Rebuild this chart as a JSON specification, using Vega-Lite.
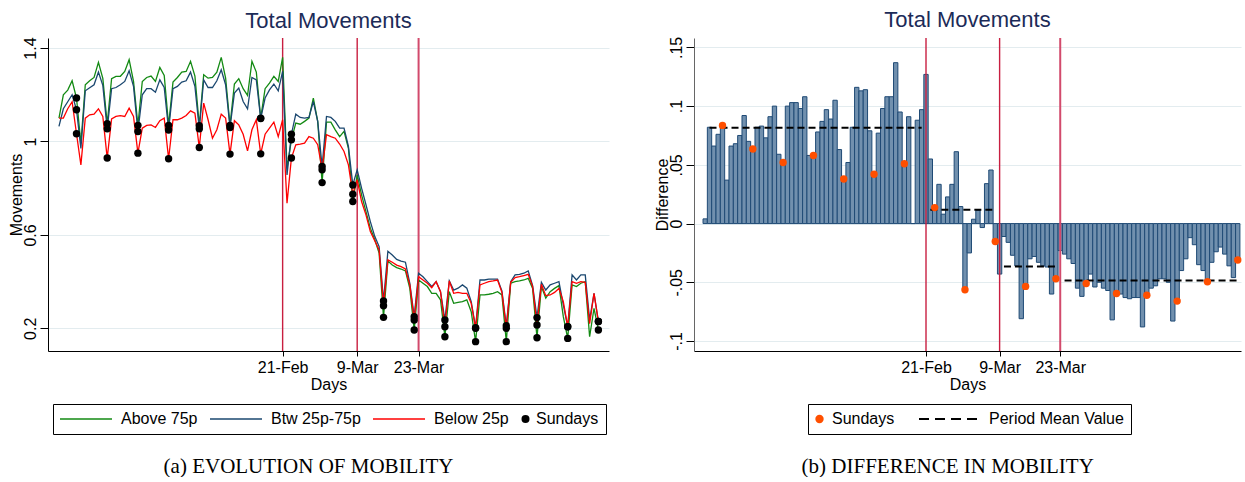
{
  "$schema": "https://vega.github.io/schema/vega-lite/v6.json",
  "padding": {"left": 8, "top": 9, "right": 0, "bottom": 0},
  "background": "white",
  "config": {
    "view": {"stroke": null},
    "font": "Liberation Sans",
    "axis": {"labelFont": "Liberation Sans", "titleFont": "Liberation Sans", "labelFontSize": 16, "titleFontSize": 16, "titleFontWeight": "normal", "labelColor": "black", "titleColor": "black", "tickColor": "black", "domainColor": "black", "gridColor": "#e3ecef", "gridWidth": 1.2},
    "title": {"font": "Liberation Sans", "fontSize": 22, "fontWeight": "normal", "color": "#1c2b58"}
  },
  "datasets": {
    "events": [{"date": "2020-02-21"}, {"date": "2020-03-09"}, {"date": "2020-03-23"}],
    "means": [
      {"start": "2020-01-02", "end": "2020-02-20", "mean": 0.0816},
      {"start": "2020-02-22", "end": "2020-03-08", "mean": 0.0117},
      {"start": "2020-03-10", "end": "2020-03-22", "mean": -0.0366},
      {"start": "2020-03-24", "end": "2020-05-03", "mean": -0.0485}
    ],
    "mob": [
      {"date": "2020-01-01", "Above 75p": 1.10, "Btw 25p-75p": 1.065, "Below 25p": 1.10, "diff": 0.004},
      {"date": "2020-01-02", "Above 75p": 1.20, "Btw 25p-75p": 1.14, "Below 25p": 1.10, "diff": 0.082},
      {"date": "2020-01-03", "Above 75p": 1.22, "Btw 25p-75p": 1.17, "Below 25p": 1.14, "diff": 0.066},
      {"date": "2020-01-04", "Above 75p": 1.26, "Btw 25p-75p": 1.20, "Below 25p": 1.17, "diff": 0.076},
      {"date": "2020-01-05", "Above 75p": 1.186, "Btw 25p-75p": 1.136, "Below 25p": 1.033, "diff": 0.0836},
      {"date": "2020-01-06", "Above 75p": 0.99, "Btw 25p-75p": 0.97, "Below 25p": 0.90, "diff": 0.037},
      {"date": "2020-01-07", "Above 75p": 1.243, "Btw 25p-75p": 1.217, "Below 25p": 1.10, "diff": 0.066},
      {"date": "2020-01-08", "Above 75p": 1.26, "Btw 25p-75p": 1.23, "Below 25p": 1.114, "diff": 0.068},
      {"date": "2020-01-09", "Above 75p": 1.274, "Btw 25p-75p": 1.243, "Below 25p": 1.117, "diff": 0.075},
      {"date": "2020-01-10", "Above 75p": 1.339, "Btw 25p-75p": 1.297, "Below 25p": 1.14, "diff": 0.092},
      {"date": "2020-01-11", "Above 75p": 1.27, "Btw 25p-75p": 1.24, "Below 25p": 1.107, "diff": 0.070},
      {"date": "2020-01-12", "Above 75p": 1.076, "Btw 25p-75p": 1.054, "Below 25p": 0.929, "diff": 0.0635},
      {"date": "2020-01-13", "Above 75p": 1.269, "Btw 25p-75p": 1.226, "Below 25p": 1.097, "diff": 0.082},
      {"date": "2020-01-14", "Above 75p": 1.279, "Btw 25p-75p": 1.231, "Below 25p": 1.107, "diff": 0.083},
      {"date": "2020-01-15", "Above 75p": 1.279, "Btw 25p-75p": 1.243, "Below 25p": 1.111, "diff": 0.073},
      {"date": "2020-01-16", "Above 75p": 1.30, "Btw 25p-75p": 1.257, "Below 25p": 1.107, "diff": 0.091},
      {"date": "2020-01-17", "Above 75p": 1.35, "Btw 25p-75p": 1.303, "Below 25p": 1.143, "diff": 0.100},
      {"date": "2020-01-18", "Above 75p": 1.257, "Btw 25p-75p": 1.236, "Below 25p": 1.107, "diff": 0.059},
      {"date": "2020-01-19", "Above 75p": 1.069, "Btw 25p-75p": 1.043, "Below 25p": 0.95, "diff": 0.052},
      {"date": "2020-01-20", "Above 75p": 1.257, "Btw 25p-75p": 1.20, "Below 25p": 1.057, "diff": 0.100},
      {"date": "2020-01-21", "Above 75p": 1.274, "Btw 25p-75p": 1.226, "Below 25p": 1.069, "diff": 0.103},
      {"date": "2020-01-22", "Above 75p": 1.28, "Btw 25p-75p": 1.226, "Below 25p": 1.071, "diff": 0.103},
      {"date": "2020-01-23", "Above 75p": 1.257, "Btw 25p-75p": 1.211, "Below 25p": 1.06, "diff": 0.098},
      {"date": "2020-01-24", "Above 75p": 1.317, "Btw 25p-75p": 1.264, "Below 25p": 1.089, "diff": 0.108},
      {"date": "2020-01-25", "Above 75p": 1.283, "Btw 25p-75p": 1.231, "Below 25p": 1.10, "diff": 0.058},
      {"date": "2020-01-26", "Above 75p": 1.069, "Btw 25p-75p": 1.049, "Below 25p": 0.926, "diff": 0.058},
      {"date": "2020-01-27", "Above 75p": 1.254, "Btw 25p-75p": 1.226, "Below 25p": 1.093, "diff": 0.078},
      {"date": "2020-01-28", "Above 75p": 1.274, "Btw 25p-75p": 1.236, "Below 25p": 1.093, "diff": 0.087},
      {"date": "2020-01-29", "Above 75p": 1.297, "Btw 25p-75p": 1.254, "Below 25p": 1.10, "diff": 0.097},
      {"date": "2020-01-30", "Above 75p": 1.30, "Btw 25p-75p": 1.26, "Below 25p": 1.111, "diff": 0.089},
      {"date": "2020-01-31", "Above 75p": 1.343, "Btw 25p-75p": 1.297, "Below 25p": 1.131, "diff": 0.105},
      {"date": "2020-02-01", "Above 75p": 1.28, "Btw 25p-75p": 1.236, "Below 25p": 1.121, "diff": 0.063},
      {"date": "2020-02-02", "Above 75p": 1.067, "Btw 25p-75p": 1.054, "Below 25p": 0.974, "diff": 0.038},
      {"date": "2020-02-03", "Above 75p": 1.286, "Btw 25p-75p": 1.264, "Below 25p": 1.164, "diff": 0.052},
      {"date": "2020-02-04", "Above 75p": 1.271, "Btw 25p-75p": 1.231, "Below 25p": 1.093, "diff": 0.082},
      {"date": "2020-02-05", "Above 75p": 1.274, "Btw 25p-75p": 1.231, "Below 25p": 1.014, "diff": 0.116},
      {"date": "2020-02-06", "Above 75p": 1.297, "Btw 25p-75p": 1.26, "Below 25p": 1.05, "diff": 0.113},
      {"date": "2020-02-07", "Above 75p": 1.36, "Btw 25p-75p": 1.307, "Below 25p": 1.117, "diff": 0.114},
      {"date": "2020-02-08", "Above 75p": 1.271, "Btw 25p-75p": 1.243, "Below 25p": 1.10, "diff": 0.079},
      {"date": "2020-02-09", "Above 75p": 1.069, "Btw 25p-75p": 1.06, "Below 25p": 0.946, "diff": 0.042},
      {"date": "2020-02-10", "Above 75p": 1.246, "Btw 25p-75p": 1.207, "Below 25p": 1.089, "diff": 0.077},
      {"date": "2020-02-11", "Above 75p": 1.269, "Btw 25p-75p": 1.229, "Below 25p": 1.071, "diff": 0.098},
      {"date": "2020-02-12", "Above 75p": 1.226, "Btw 25p-75p": 1.171, "Below 25p": 1.031, "diff": 0.108},
      {"date": "2020-02-13", "Above 75p": 1.197, "Btw 25p-75p": 1.14, "Below 25p": 0.96, "diff": 0.108},
      {"date": "2020-02-14", "Above 75p": 1.343, "Btw 25p-75p": 1.274, "Below 25p": 1.05, "diff": 0.137},
      {"date": "2020-02-15", "Above 75p": 1.297, "Btw 25p-75p": 1.264, "Below 25p": 1.093, "diff": 0.095},
      {"date": "2020-02-16", "Above 75p": 1.10, "Btw 25p-75p": 1.098, "Below 25p": 0.947, "diff": 0.051},
      {"date": "2020-02-17", "Above 75p": 1.226, "Btw 25p-75p": 1.186, "Below 25p": 1.031, "diff": 0.091},
      {"date": "2020-02-18", "Above 75p": 1.25, "Btw 25p-75p": 1.221, "Below 25p": 1.057, "diff": 0.0},
      {"date": "2020-02-19", "Above 75p": 1.279, "Btw 25p-75p": 1.246, "Below 25p": 1.083, "diff": 0.088},
      {"date": "2020-02-20", "Above 75p": 1.257, "Btw 25p-75p": 1.217, "Below 25p": 1.021, "diff": 0.097},
      {"date": "2020-02-21", "Above 75p": 1.36, "Btw 25p-75p": 1.30, "Below 25p": 1.093, "diff": 0.127},
      {"date": "2020-02-22", "Above 75p": 0.886, "Btw 25p-75p": 0.857, "Below 25p": 0.736, "diff": 0.055},
      {"date": "2020-02-23", "Above 75p": 1.007, "Btw 25p-75p": 1.031, "Below 25p": 0.929, "diff": 0.0136},
      {"date": "2020-02-24", "Above 75p": 1.079, "Btw 25p-75p": 1.117, "Below 25p": 0.986, "diff": 0.0334},
      {"date": "2020-02-25", "Above 75p": 1.074, "Btw 25p-75p": 1.103, "Below 25p": 0.989, "diff": 0.008},
      {"date": "2020-02-26", "Above 75p": 1.086, "Btw 25p-75p": 1.10, "Below 25p": 0.993, "diff": 0.0227},
      {"date": "2020-02-27", "Above 75p": 1.10, "Btw 25p-75p": 1.103, "Below 25p": 1.021, "diff": 0.0334},
      {"date": "2020-02-28", "Above 75p": 1.186, "Btw 25p-75p": 1.171, "Below 25p": 1.014, "diff": 0.0612},
      {"date": "2020-02-29", "Above 75p": 1.086, "Btw 25p-75p": 1.086, "Below 25p": 0.986, "diff": 0.0145},
      {"date": "2020-03-01", "Above 75p": 0.824, "Btw 25p-75p": 0.893, "Below 25p": 0.879, "diff": -0.0564},
      {"date": "2020-03-02", "Above 75p": 1.083, "Btw 25p-75p": 1.107, "Below 25p": 1.029, "diff": -0.025},
      {"date": "2020-03-03", "Above 75p": 1.083, "Btw 25p-75p": 1.103, "Below 25p": 1.021, "diff": 0.0037},
      {"date": "2020-03-04", "Above 75p": 1.05, "Btw 25p-75p": 1.086, "Below 25p": 1.014, "diff": 0.0113},
      {"date": "2020-03-05", "Above 75p": 1.021, "Btw 25p-75p": 1.057, "Below 25p": 0.989, "diff": -0.0034},
      {"date": "2020-03-06", "Above 75p": 1.043, "Btw 25p-75p": 1.057, "Below 25p": 0.957, "diff": 0.034},
      {"date": "2020-03-07", "Above 75p": 0.971, "Btw 25p-75p": 0.979, "Below 25p": 0.90, "diff": 0.0456},
      {"date": "2020-03-08", "Above 75p": 0.743, "Btw 25p-75p": 0.814, "Below 25p": 0.774, "diff": -0.0153},
      {"date": "2020-03-09", "Above 75p": 0.857, "Btw 25p-75p": 0.879, "Below 25p": 0.836, "diff": -0.043},
      {"date": "2020-03-10", "Above 75p": 0.771, "Btw 25p-75p": 0.80, "Below 25p": 0.743, "diff": -0.011},
      {"date": "2020-03-11", "Above 75p": 0.70, "Btw 25p-75p": 0.729, "Below 25p": 0.686, "diff": -0.016},
      {"date": "2020-03-12", "Above 75p": 0.629, "Btw 25p-75p": 0.657, "Below 25p": 0.614, "diff": -0.027},
      {"date": "2020-03-13", "Above 75p": 0.58, "Btw 25p-75p": 0.594, "Below 25p": 0.575, "diff": -0.036},
      {"date": "2020-03-14", "Above 75p": 0.522, "Btw 25p-75p": 0.55, "Below 25p": 0.536, "diff": -0.081},
      {"date": "2020-03-15", "Above 75p": 0.247, "Btw 25p-75p": 0.317, "Below 25p": 0.297, "diff": -0.0535},
      {"date": "2020-03-16", "Above 75p": 0.488, "Btw 25p-75p": 0.53, "Below 25p": 0.493, "diff": -0.030},
      {"date": "2020-03-17", "Above 75p": 0.471, "Btw 25p-75p": 0.514, "Below 25p": 0.483, "diff": -0.028},
      {"date": "2020-03-18", "Above 75p": 0.46, "Btw 25p-75p": 0.495, "Below 25p": 0.471, "diff": -0.033},
      {"date": "2020-03-19", "Above 75p": 0.454, "Btw 25p-75p": 0.488, "Below 25p": 0.464, "diff": -0.036},
      {"date": "2020-03-20", "Above 75p": 0.446, "Btw 25p-75p": 0.483, "Below 25p": 0.454, "diff": -0.037},
      {"date": "2020-03-21", "Above 75p": 0.371, "Btw 25p-75p": 0.393, "Below 25p": 0.386, "diff": -0.060},
      {"date": "2020-03-22", "Above 75p": 0.193, "Btw 25p-75p": 0.25, "Below 25p": 0.236, "diff": -0.047},
      {"date": "2020-03-23", "Above 75p": 0.407, "Btw 25p-75p": 0.436, "Below 25p": 0.421, "diff": -0.023},
      {"date": "2020-03-24", "Above 75p": 0.393, "Btw 25p-75p": 0.421, "Below 25p": 0.407, "diff": -0.026},
      {"date": "2020-03-25", "Above 75p": 0.379, "Btw 25p-75p": 0.40, "Below 25p": 0.393, "diff": -0.030},
      {"date": "2020-03-26", "Above 75p": 0.35, "Btw 25p-75p": 0.379, "Below 25p": 0.374, "diff": -0.034},
      {"date": "2020-03-27", "Above 75p": 0.35, "Btw 25p-75p": 0.40, "Below 25p": 0.40, "diff": -0.055},
      {"date": "2020-03-28", "Above 75p": 0.322, "Btw 25p-75p": 0.357, "Below 25p": 0.357, "diff": -0.062},
      {"date": "2020-03-29", "Above 75p": 0.164, "Btw 25p-75p": 0.236, "Below 25p": 0.207, "diff": -0.051},
      {"date": "2020-03-30", "Above 75p": 0.357, "Btw 25p-75p": 0.403, "Below 25p": 0.403, "diff": -0.043},
      {"date": "2020-03-31", "Above 75p": 0.307, "Btw 25p-75p": 0.364, "Below 25p": 0.35, "diff": -0.054},
      {"date": "2020-04-01", "Above 75p": 0.311, "Btw 25p-75p": 0.372, "Below 25p": 0.354, "diff": -0.050},
      {"date": "2020-04-02", "Above 75p": 0.314, "Btw 25p-75p": 0.386, "Below 25p": 0.35, "diff": -0.055},
      {"date": "2020-04-03", "Above 75p": 0.322, "Btw 25p-75p": 0.372, "Below 25p": 0.35, "diff": -0.057},
      {"date": "2020-04-04", "Above 75p": 0.271, "Btw 25p-75p": 0.314, "Below 25p": 0.307, "diff": -0.082},
      {"date": "2020-04-05", "Above 75p": 0.143, "Btw 25p-75p": 0.203, "Below 25p": 0.20, "diff": -0.0595},
      {"date": "2020-04-06", "Above 75p": 0.343, "Btw 25p-75p": 0.407, "Below 25p": 0.386, "diff": -0.060},
      {"date": "2020-04-07", "Above 75p": 0.343, "Btw 25p-75p": 0.407, "Below 25p": 0.393, "diff": -0.063},
      {"date": "2020-04-08", "Above 75p": 0.346, "Btw 25p-75p": 0.411, "Below 25p": 0.40, "diff": -0.064},
      {"date": "2020-04-09", "Above 75p": 0.35, "Btw 25p-75p": 0.411, "Below 25p": 0.403, "diff": -0.063},
      {"date": "2020-04-10", "Above 75p": 0.357, "Btw 25p-75p": 0.411, "Below 25p": 0.407, "diff": -0.063},
      {"date": "2020-04-11", "Above 75p": 0.343, "Btw 25p-75p": 0.36, "Below 25p": 0.354, "diff": -0.088},
      {"date": "2020-04-12", "Above 75p": 0.143, "Btw 25p-75p": 0.211, "Below 25p": 0.20, "diff": -0.061},
      {"date": "2020-04-13", "Above 75p": 0.393, "Btw 25p-75p": 0.40, "Below 25p": 0.397, "diff": -0.055},
      {"date": "2020-04-14", "Above 75p": 0.40, "Btw 25p-75p": 0.429, "Below 25p": 0.417, "diff": -0.053},
      {"date": "2020-04-15", "Above 75p": 0.403, "Btw 25p-75p": 0.431, "Below 25p": 0.421, "diff": -0.047},
      {"date": "2020-04-16", "Above 75p": 0.407, "Btw 25p-75p": 0.436, "Below 25p": 0.426, "diff": -0.047},
      {"date": "2020-04-17", "Above 75p": 0.414, "Btw 25p-75p": 0.446, "Below 25p": 0.431, "diff": -0.050},
      {"date": "2020-04-18", "Above 75p": 0.371, "Btw 25p-75p": 0.383, "Below 25p": 0.379, "diff": -0.083},
      {"date": "2020-04-19", "Above 75p": 0.16, "Btw 25p-75p": 0.246, "Below 25p": 0.214, "diff": -0.066},
      {"date": "2020-04-20", "Above 75p": 0.379, "Btw 25p-75p": 0.397, "Below 25p": 0.389, "diff": -0.040},
      {"date": "2020-04-21", "Above 75p": 0.329, "Btw 25p-75p": 0.364, "Below 25p": 0.34, "diff": -0.030},
      {"date": "2020-04-22", "Above 75p": 0.357, "Btw 25p-75p": 0.386, "Below 25p": 0.343, "diff": -0.012},
      {"date": "2020-04-23", "Above 75p": 0.371, "Btw 25p-75p": 0.393, "Below 25p": 0.354, "diff": -0.018},
      {"date": "2020-04-24", "Above 75p": 0.383, "Btw 25p-75p": 0.40, "Below 25p": 0.371, "diff": -0.035},
      {"date": "2020-04-25", "Above 75p": 0.25, "Btw 25p-75p": 0.30, "Below 25p": 0.314, "diff": -0.040},
      {"date": "2020-04-26", "Above 75p": 0.157, "Btw 25p-75p": 0.207, "Below 25p": 0.207, "diff": -0.0496},
      {"date": "2020-04-27", "Above 75p": 0.386, "Btw 25p-75p": 0.429, "Below 25p": 0.40, "diff": -0.033},
      {"date": "2020-04-28", "Above 75p": 0.379, "Btw 25p-75p": 0.407, "Below 25p": 0.393, "diff": -0.024},
      {"date": "2020-04-29", "Above 75p": 0.393, "Btw 25p-75p": 0.429, "Below 25p": 0.40, "diff": -0.020},
      {"date": "2020-04-30", "Above 75p": 0.40, "Btw 25p-75p": 0.429, "Below 25p": 0.397, "diff": -0.026},
      {"date": "2020-05-01", "Above 75p": 0.164, "Btw 25p-75p": 0.236, "Below 25p": 0.22, "diff": -0.036},
      {"date": "2020-05-02", "Above 75p": 0.286, "Btw 25p-75p": 0.35, "Below 25p": 0.35, "diff": -0.046},
      {"date": "2020-05-03", "Above 75p": 0.193, "Btw 25p-75p": 0.229, "Below 25p": 0.229, "diff": -0.031}
    ]
  },
  "spacing": 44,
  "resolve": {"scale": {"color": "independent"}, "legend": {"color": "independent"}},
  "hconcat": [
    {
      "title": {"text": "(a)  EVOLUTION OF MOBILITY", "orient": "bottom", "anchor": "middle", "font": "Liberation Serif", "fontSize": 21, "color": "black", "offset": 21},
      "vconcat": [
        {
          "title": {"text": "Total Movements", "offset": 4},
          "width": 561,
          "height": 313,
          "layer": [
            {
              "data": {"name": "events"},
              "mark": {"type": "rule"},
              "encoding": {
                "x": {"field": "date", "type": "temporal", "title": "Days",
                      "scale": {"type": "utc", "domain": [{"year": 2019, "month": 12, "date": 29, "hours": 12, "utc": true}, {"year": 2020, "month": 5, "date": 5, "hours": 10, "utc": true}]},
                      "axis": {"values": [{"year": 2020, "month": 2, "date": 21, "utc": true}, {"year": 2020, "month": 3, "date": 9, "utc": true}, {"year": 2020, "month": 3, "date": 23, "utc": true}], "format": "%-d-%b", "grid": false, "tickSize": 5, "labelPadding": 3, "titlePadding": 1}},
                "color": {"condition": {"test": "utcmonth(toDate(datum.date)) === 2 && utcdate(toDate(datum.date)) === 23", "value": "#d24a6c"}, "value": "#c81e40"},
                "strokeWidth": {"condition": {"test": "utcmonth(toDate(datum.date)) === 2 && utcdate(toDate(datum.date)) === 23", "value": 2}, "value": 1.4}
              }
            },
            {
              "data": {"name": "mob"},
              "transform": [{"fold": ["Above 75p", "Btw 25p-75p", "Below 25p"], "as": ["group", "value"]}],
              "mark": {"type": "line", "strokeWidth": 1.3},
              "encoding": {
                "x": {"field": "date", "type": "temporal", "title": "Days",
                      "scale": {"type": "utc", "domain": [{"year": 2019, "month": 12, "date": 29, "hours": 12, "utc": true}, {"year": 2020, "month": 5, "date": 5, "hours": 10, "utc": true}]}},
                "y": {"field": "value", "type": "quantitative", "title": "Movements",
                      "scale": {"domain": [0.103, 1.443], "nice": false, "zero": false},
                      "axis": {"values": [0.2, 0.6, 1, 1.4], "format": "~g", "grid": true, "labelAngle": -90, "labelAlign": "center", "labelBaseline": "alphabetic", "tickSize": 8, "labelPadding": 5, "titlePadding": -2}},
                "color": {"field": "group", "type": "nominal",
                          "scale": {"domain": ["Above 75p", "Btw 25p-75p", "Below 25p", "Sundays"], "range": ["#138a13", "#1a476f", "#ff0000", "#000000"]},
                          "legend": {
                            "orient": "none", "legendX": 5, "legendY": 366, "direction": "horizontal", "title": null,
                            "strokeColor": "black", "fillColor": "white", "padding": 7,
                            "labelFontSize": 16, "labelFont": "Liberation Sans", "labelColor": "black", "labelLimit": 300,
                            "columnPadding": 12, "clipHeight": 16, "symbolType": "stroke",
                            "encode": {
                              "symbols": {"update": {
                                "x": {"signal": "datum.value === 'Sundays' ? 4.5 : 26"},
                                "shape": {"signal": "datum.value === 'Sundays' ? 'circle' : 'stroke'"},
                                "size": {"signal": "datum.value === 'Sundays' ? 64 : 2704"},
                                "strokeWidth": {"signal": "datum.value === 'Sundays' ? 0 : 1.5"},
                                "fill": {"signal": "datum.value === 'Sundays' ? 'black' : 'transparent'"},
                                "stroke": {"signal": "datum.value === 'Above 75p' ? '#138a13' : datum.value === 'Btw 25p-75p' ? '#1a476f' : datum.value === 'Below 25p' ? '#ff0000' : 'black'"},
                                "opacity": {"value": 1}
                              }},
                              "labels": {"update": {
                                "x": {"signal": "datum.value === 'Sundays' ? 15 : 61"}
                              }}
                            }
                          }}
              }
            },
            {
              "data": {"name": "mob"},
              "transform": [
                {"fold": ["Above 75p", "Btw 25p-75p", "Below 25p"], "as": ["group", "value"]},
                {"filter": "utcday(toDate(datum.date)) === 0"}
              ],
              "mark": {"type": "point", "filled": true, "color": "black", "size": 55, "opacity": 1},
              "encoding": {
                "x": {"field": "date", "type": "temporal", "title": "Days",
                      "scale": {"type": "utc", "domain": [{"year": 2019, "month": 12, "date": 29, "hours": 12, "utc": true}, {"year": 2020, "month": 5, "date": 5, "hours": 10, "utc": true}]}},
                "y": {"field": "value", "type": "quantitative", "title": "Movements"}
              }
            }
          ]
        }
      ]
    },
    {
      "title": {"text": "(b)  DIFFERENCE IN MOBILITY", "orient": "bottom", "anchor": "middle", "font": "Liberation Serif", "fontSize": 21, "color": "black", "offset": 21},
      "vconcat": [
        {
          "title": {"text": "Total Movements", "offset": 4},
          "width": 547,
          "height": 313,
          "layer": [
            {
              "data": {"name": "mob"},
              "mark": {"type": "bar", "width": 4.33, "fill": "#7190ae", "stroke": "#1f4a75", "strokeWidth": 1},
              "encoding": {
                "x": {"field": "date", "type": "temporal", "title": "Days",
                      "scale": {"type": "utc", "padding": 0, "domain": [{"year": 2019, "month": 12, "date": 29, "hours": 10, "utc": true}, {"year": 2020, "month": 5, "date": 3, "hours": 18, "utc": true}]},
                      "axis": {"values": [{"year": 2020, "month": 2, "date": 21, "utc": true}, {"year": 2020, "month": 3, "date": 9, "utc": true}, {"year": 2020, "month": 3, "date": 23, "utc": true}], "format": "%-d-%b", "grid": false, "tickSize": 5, "labelPadding": 3, "titlePadding": 1}},
                "y": {"field": "diff", "type": "quantitative", "title": "Difference",
                      "scale": {"domain": [-0.1085, 0.158], "nice": false, "zero": false, "padding": 0},
                      "axis": {"values": [-0.1, -0.05, 0, 0.05, 0.1, 0.15], "labelExpr": "datum.value < 0 ? '-' + replace(format(-datum.value, '~g'), '0.', '.') : replace(format(datum.value, '~g'), '0.', '.')", "grid": true, "labelAngle": -90, "labelAlign": "center", "labelBaseline": "alphabetic", "tickSize": 8, "labelPadding": 5, "titlePadding": -2, "domainColor": "#666666"}}
              }
            },
            {
              "mark": {"type": "rule", "color": "#c8285a", "strokeWidth": 1.2},
              "encoding": {"y": {"datum": 0, "type": "quantitative"}}
            },
            {
              "data": {"name": "events"},
              "mark": {"type": "rule"},
              "encoding": {
                "x": {"field": "date", "type": "temporal", "title": "Days",
                      "scale": {"type": "utc", "padding": 0, "domain": [{"year": 2019, "month": 12, "date": 29, "hours": 10, "utc": true}, {"year": 2020, "month": 5, "date": 3, "hours": 18, "utc": true}]}},
                "color": {"condition": {"test": "utcmonth(toDate(datum.date)) === 2 && utcdate(toDate(datum.date)) === 23", "value": "#d24a6c"}, "value": "#c81e40"},
                "strokeWidth": {"condition": {"test": "utcmonth(toDate(datum.date)) === 2 && utcdate(toDate(datum.date)) === 23", "value": 2}, "value": 1.4}
              }
            },
            {
              "data": {"name": "means"},
              "mark": {"type": "rule", "strokeDash": [7, 4], "strokeWidth": 2},
              "encoding": {
                "x": {"field": "start", "type": "temporal", "title": "Days",
                      "scale": {"type": "utc", "padding": 0, "domain": [{"year": 2019, "month": 12, "date": 29, "hours": 10, "utc": true}, {"year": 2020, "month": 5, "date": 3, "hours": 18, "utc": true}]}},
                "x2": {"field": "end"},
                "y": {"field": "mean", "type": "quantitative", "title": "Difference"},
                "color": {"datum": "Period Mean Value", "type": "nominal",
                          "scale": {"domain": ["Sundays", "Period Mean Value"], "range": ["#ff4f00", "#000000"]},
                          "legend": {
                            "orient": "none", "legendX": 114, "legendY": 366, "direction": "horizontal", "title": null,
                            "strokeColor": "black", "fillColor": "white", "padding": 7,
                            "labelFontSize": 16, "labelFont": "Liberation Sans", "labelColor": "black", "labelLimit": 300,
                            "columnPadding": 24, "clipHeight": 16, "symbolType": "stroke",
                            "encode": {
                              "symbols": {"update": {
                                "x": {"signal": "datum.value === 'Sundays' ? 4.5 : 30"},
                                "shape": {"signal": "datum.value === 'Sundays' ? 'circle' : 'stroke'"},
                                "size": {"signal": "datum.value === 'Sundays' ? 70 : 3600"},
                                "strokeWidth": {"signal": "datum.value === 'Sundays' ? 0 : 2"},
                                "strokeDash": {"signal": "datum.value === 'Sundays' ? [1, 0] : [10, 6]"},
                                "fill": {"signal": "datum.value === 'Sundays' ? '#ff4f00' : 'transparent'"},
                                "stroke": {"signal": "datum.value === 'Sundays' ? '#ff4f00' : 'black'"},
                                "opacity": {"value": 1}
                              }},
                              "labels": {"update": {
                                "x": {"signal": "datum.value === 'Sundays' ? 17 : 70"}
                              }}
                            }
                          }}
              }
            },
            {
              "data": {"name": "mob"},
              "transform": [{"filter": "utcday(toDate(datum.date)) === 0"}],
              "mark": {"type": "point", "filled": true, "size": 55, "opacity": 1},
              "encoding": {
                "x": {"field": "date", "type": "temporal", "title": "Days",
                      "scale": {"type": "utc", "padding": 0, "domain": [{"year": 2019, "month": 12, "date": 29, "hours": 10, "utc": true}, {"year": 2020, "month": 5, "date": 3, "hours": 18, "utc": true}]}},
                "y": {"field": "diff", "type": "quantitative", "title": "Difference"},
                "color": {"datum": "Sundays", "type": "nominal",
                          "scale": {"domain": ["Sundays", "Period Mean Value"], "range": ["#ff4f00", "#000000"]},
                          "legend": {
                            "orient": "none", "legendX": 114, "legendY": 366, "direction": "horizontal", "title": null,
                            "strokeColor": "black", "fillColor": "white", "padding": 7,
                            "labelFontSize": 16, "labelFont": "Liberation Sans", "labelColor": "black", "labelLimit": 300,
                            "columnPadding": 24, "clipHeight": 16, "symbolType": "stroke",
                            "encode": {
                              "symbols": {"update": {
                                "x": {"signal": "datum.value === 'Sundays' ? 4.5 : 30"},
                                "shape": {"signal": "datum.value === 'Sundays' ? 'circle' : 'stroke'"},
                                "size": {"signal": "datum.value === 'Sundays' ? 70 : 3600"},
                                "strokeWidth": {"signal": "datum.value === 'Sundays' ? 0 : 2"},
                                "strokeDash": {"signal": "datum.value === 'Sundays' ? [1, 0] : [10, 6]"},
                                "fill": {"signal": "datum.value === 'Sundays' ? '#ff4f00' : 'transparent'"},
                                "stroke": {"signal": "datum.value === 'Sundays' ? '#ff4f00' : 'black'"},
                                "opacity": {"value": 1}
                              }},
                              "labels": {"update": {
                                "x": {"signal": "datum.value === 'Sundays' ? 17 : 70"}
                              }}
                            }
                          }}
              }
            }
          ]
        }
      ]
    }
  ]
}
